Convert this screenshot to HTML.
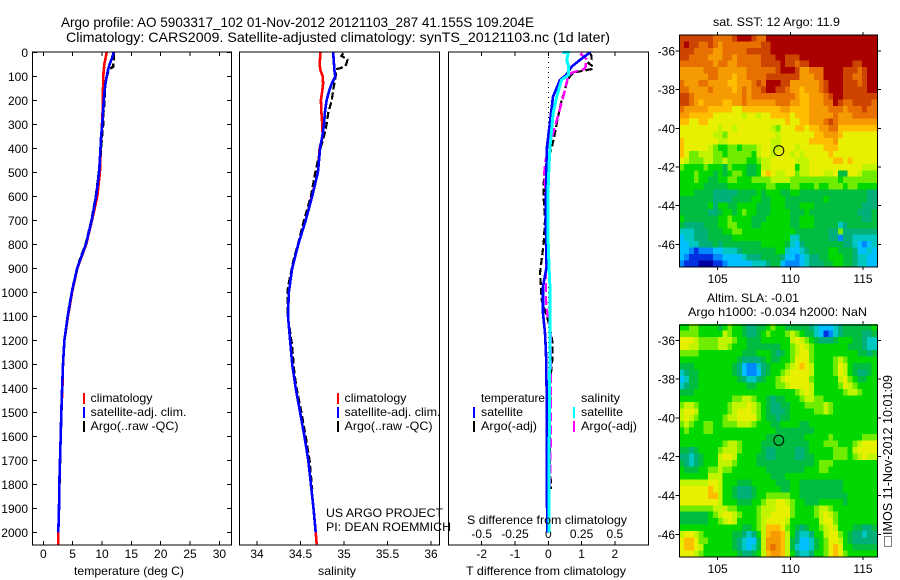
<!DOCTYPE html>
<html lang="en">
<head>
<meta charset="utf-8">
<title>Argo profile 5903317_102</title>
<style>
html,body{margin:0;padding:0;background:#fff;}
svg{display:block;}
text{font-family:"Liberation Sans",sans-serif;font-size:12px;fill:#000;}
.title{font-size:14px;}
.frame{fill:none;stroke:#000;stroke-width:1.4;shape-rendering:crispEdges;}
.bar{shape-rendering:crispEdges;}
</style>
</head>
<body>
<svg id="chart" xmlns="http://www.w3.org/2000/svg" width="900" height="580" viewBox="0 0 900 580">
  <rect x="0" y="0" width="900" height="580" fill="#fff"/>
  <text class="title" x="61" y="27" textLength="473" lengthAdjust="spacingAndGlyphs">Argo profile: AO 5903317_102 01-Nov-2012 20121103_287 41.155S 109.204E</text>
  <text class="title" x="66" y="42" textLength="544" lengthAdjust="spacingAndGlyphs">Climatology: CARS2009. Satellite-adjusted climatology: synTS_20121103.nc (1d later)</text>

  <g id="panel-t"></g>
  <g id="panel-s"></g>
  <g id="panel-d"></g>
  <g id="map-sst"></g>
  <g id="map-sla"></g>

  <rect class="frame" x="32.5" y="52" width="199" height="493"/>
  <rect class="frame" x="239.5" y="52" width="200" height="493"/>
  <rect class="frame" x="448.5" y="52" width="200" height="493"/>
  <rect class="frame" x="679.5" y="35" width="198" height="232"/>
  <rect class="frame" x="679.5" y="325" width="198" height="232"/>

  <text x="74" y="575" textLength="110" lengthAdjust="spacingAndGlyphs">temperature (deg C)</text>
  <text x="318" y="575" textLength="38" lengthAdjust="spacingAndGlyphs">salinity</text>
  <text x="466" y="575" textLength="160" lengthAdjust="spacingAndGlyphs">T difference from climatology</text>
  <text x="467" y="524" textLength="160" lengthAdjust="spacingAndGlyphs">S difference from climatology</text>

  <g>
    <rect class="bar" x="83" y="393" width="2" height="11" fill="#f00"/>
    <rect class="bar" x="83" y="407" width="2" height="11" fill="#00f"/>
    <rect class="bar" x="83" y="421" width="2" height="11" fill="#000"/>
    <text x="90.5" y="402" textLength="62" lengthAdjust="spacingAndGlyphs">climatology</text>
    <text x="90.5" y="416" textLength="96" lengthAdjust="spacingAndGlyphs">satellite-adj. clim.</text>
    <text x="90.5" y="430" textLength="88" lengthAdjust="spacingAndGlyphs">Argo(..raw -QC)</text>
  </g>
  <g>
    <rect class="bar" x="337" y="393" width="2" height="11" fill="#f00"/>
    <rect class="bar" x="337" y="407" width="2" height="11" fill="#00f"/>
    <rect class="bar" x="337" y="421" width="2" height="11" fill="#000"/>
    <text x="344.5" y="402" textLength="62" lengthAdjust="spacingAndGlyphs">climatology</text>
    <text x="344.5" y="416" textLength="96" lengthAdjust="spacingAndGlyphs">satellite-adj. clim.</text>
    <text x="344.5" y="430" textLength="88" lengthAdjust="spacingAndGlyphs">Argo(..raw -QC)</text>
  </g>
  <g>
    <text x="481" y="402" textLength="64" lengthAdjust="spacingAndGlyphs">temperature</text>
    <text x="581" y="402" textLength="39" lengthAdjust="spacingAndGlyphs">salinity</text>
    <rect class="bar" x="473" y="407" width="2" height="11" fill="#00f"/>
    <rect class="bar" x="473" y="421" width="2" height="11" fill="#000"/>
    <rect class="bar" x="573" y="407" width="2" height="11" fill="#0ff"/>
    <rect class="bar" x="573" y="421" width="2" height="11" fill="#f0f"/>
    <text x="481" y="416" textLength="42" lengthAdjust="spacingAndGlyphs">satellite</text>
    <text x="481" y="430" textLength="56" lengthAdjust="spacingAndGlyphs">Argo(-adj)</text>
    <text x="581" y="416" textLength="42" lengthAdjust="spacingAndGlyphs">satellite</text>
    <text x="581" y="430" textLength="56" lengthAdjust="spacingAndGlyphs">Argo(-adj)</text>
  </g>

  <text x="326" y="517" textLength="117" lengthAdjust="spacingAndGlyphs">US ARGO PROJECT</text>
  <text x="326" y="531" textLength="125" lengthAdjust="spacingAndGlyphs">PI: DEAN ROEMMICH</text>

  <text x="713" y="26" textLength="127" lengthAdjust="spacingAndGlyphs">sat. SST: 12 Argo: 11.9</text>
  <text x="707" y="302" textLength="92" lengthAdjust="spacingAndGlyphs">Altim. SLA: -0.01</text>
  <text x="688" y="316" textLength="179" lengthAdjust="spacingAndGlyphs">Argo h1000: -0.034 h2000: NaN</text>

  <rect x="884.5" y="536.5" width="7" height="10" fill="none" stroke="#000" stroke-width="1" stroke-dasharray="1 1"/>
  <text style="font-size:13px" transform="translate(892 535) rotate(-90)" textLength="160" lengthAdjust="spacingAndGlyphs">IMOS 11-Nov-2012 10:01:09</text>
</svg>
<script>
// ---------- profile data ----------
const depths = [0,25,50,75,100,130,160,200,250,300,350,400,500,600,700,800,900,1000,1100,1200,1300,1400,1500,1600,1700,1800,1900,2000,2050];
const climTemp = [10.8,10.6,10.4,10.3,10.2,10.2,10.15,10.15,10.1,10.0,9.9,9.8,9.65,9.2,8.3,7.3,5.8,4.9,4.2,3.6,3.35,3.25,3.07,2.96,2.85,2.73,2.67,2.55,2.52];
const satTemp = [12.0,11.7,11.3,11.0,10.8,10.6,10.45,10.3,10.15,10.05,9.85,9.75,9.5,9.0,8.25,7.25,5.75,4.85,4.15,3.6,3.35,3.2,3.07,2.96,2.85,2.73,2.67,2.55];
const climSal = [34.73,34.725,34.72,34.73,34.755,34.76,34.75,34.735,34.74,34.75,34.755,34.72,34.70,34.63,34.56,34.475,34.405,34.365,34.356,34.38,34.405,34.445,34.495,34.545,34.59,34.62,34.65,34.675,34.686];
const satSal = [34.875,34.88,34.885,34.89,34.90,34.86,34.83,34.80,34.78,34.77,34.75,34.725,34.70,34.635,34.56,34.475,34.405,34.365,34.356,34.38,34.405,34.445,34.495,34.545,34.59,34.62,34.65,34.675];
const argoDepths = [4,15,30,45,60,70,85,100,130,160,200,250,300,350,400,450,500,600,700,800,865,920,977,1032,1095,1150,1212,1270,1336,1400,1500,1600,1700,1820];
const argoTemp = [12.0,12.0,12.0,11.9,11.9,11.3,11.0,10.85,10.6,10.5,10.45,10.25,10.2,10.0,9.85,9.7,9.45,8.95,8.2,7.2,6.2,5.6,5.0,4.6,4.15,3.85,3.55,3.4,3.3,3.22,3.1,2.98,2.88,2.74];
const argoSal = [34.99,34.97,35.04,35.03,35.01,34.92,34.905,34.905,34.89,34.875,34.86,34.82,34.80,34.77,34.73,34.70,34.67,34.62,34.54,34.47,34.42,34.39,34.355,34.35,34.35,34.375,34.40,34.415,34.43,34.455,34.51,34.56,34.605,34.635];
const argoTempDiff = [1.25,1.3,1.3,1.2,1.35,1.3,0.75,0.65,0.55,0.5,0.4,0.32,0.25,0.18,0.1,-0.03,-0.13,-0.14,-0.1,-0.14,-0.2,-0.25,-0.22,-0.2,-0.05,0.05,0.13,0.13,0.08,0.06,0.05,0.05,0.05,0.08];
const argoSalDiff = [0.24,0.26,0.29,0.28,0.28,0.27,0.175,0.15,0.135,0.125,0.105,0.08,0.055,0.03,0.0,-0.02,-0.03,-0.02,-0.017,-0.017,-0.017,-0.017,-0.017,-0.017,-0.007,0.015,0.02,0.02,0.02,0.02,0.02,0.02,0.015,0.012];
const satDiffDepths = [0,1,32,60,95,115,185,254,324,393,462,601,740,893,977,1087,1170,1253,1400,1700,2000];
const satTempDiff = [1.25,1.25,0.95,0.7,0.53,0.35,0.14,0.08,0.02,-0.04,-0.05,-0.07,-0.07,-0.05,-0.16,-0.16,-0.1,-0.07,-0.05,-0.05,-0.03];
const satSalDiff = [0.105,0.15,0.138,0.153,0.15,0.10,0.063,0.036,0.025,0.013,0.006,-0.004,-0.004,0.005,0.012,0.012,0.012,0.012,0.01,0.006,0.005];

// ---------- tick labels ----------
const depthTicks = [0,100,200,300,400,500,600,700,800,900,1000,1100,1200,1300,1400,1500,1600,1700,1800,1900,2000];
const tempTicks = [0,5,10,15,20,25,30];
const salTicks = [34,34.5,35,35.5,36];
const tDiffTicks = [-2,-1,0,1,2];
const sDiffTicks = [-0.5,-0.25,0,0.25,0.5];
const lonTicks = [105,110,115];
const latTicks = [-36,-38,-40,-42,-44,-46];
const argoLon = [109.204];
const argoLat = [-41.155];

// ---------- map data: colour level per cell, north to south ----------
const sstLevels = [
[14,14,14,14,14,14,14,13,13,13,13,14,15,15,15,14,13,13,15,15,15,15,15,15,15,15,15,15,15,15,15,15,15,15,15,15,15,15,15,15,15],
[14,15,14,14,13,13,14,13,12,13,13,13,13,13,13,13,13,14,14,15,15,15,15,15,15,15,15,15,15,15,15,15,15,15,15,15,15,15,15,15,15],
[14,14,14,13,13,13,13,12,12,13,13,13,13,13,14,14,14,14,14,15,15,15,15,15,15,15,15,15,15,15,15,15,15,15,15,15,15,15,15,15,15],
[14,14,13,13,13,13,12,12,12,13,13,12,13,13,13,13,13,14,14,14,15,15,14,14,14,15,15,15,15,15,15,15,15,15,15,15,15,15,15,15,15],
[13,13,13,13,13,13,13,12,13,13,12,12,13,13,13,13,13,14,14,14,14,15,14,14,13,14,14,15,15,15,15,15,15,15,15,15,14,14,15,15,15],
[12,12,12,12,12,13,13,13,12,12,12,12,12,12,13,13,13,13,13,13,14,15,15,15,14,12,12,13,13,13,15,15,15,15,14,14,14,13,14,15,15],
[12,12,12,12,12,12,13,13,12,12,12,11,12,12,13,13,13,13,14,14,14,14,14,14,14,12,12,12,13,13,15,15,15,15,14,14,13,13,14,15,15],
[13,12,12,12,13,13,12,12,12,12,11,11,12,12,12,13,14,13,15,15,15,14,14,12,12,12,12,12,12,13,14,15,15,15,14,14,14,13,14,15,15],
[13,13,12,12,12,12,13,12,12,12,12,11,12,13,12,13,13,14,15,15,14,14,13,12,12,11,12,12,12,13,14,15,15,15,14,14,14,14,14,15,15],
[14,14,13,12,12,12,12,12,12,12,12,12,12,13,12,13,13,13,13,13,13,13,13,13,12,11,11,12,12,12,13,14,15,15,14,14,14,14,14,14,14],
[14,14,13,12,11,12,12,12,12,11,11,12,12,13,12,12,12,12,12,12,13,13,13,12,12,11,11,12,12,12,13,13,15,14,13,13,14,14,14,14,13],
[13,12,12,12,12,12,11,11,11,11,11,10,10,11,11,11,11,11,11,11,11,12,12,11,11,11,11,12,12,12,12,13,13,13,12,13,13,13,14,13,13],
[12,12,11,11,11,11,11,10,10,10,10,10,10,9,10,10,9,10,10,11,11,11,11,10,11,11,11,12,12,12,12,12,13,12,12,12,13,13,13,13,13],
[11,11,10,10,11,11,10,10,10,10,10,10,10,10,10,10,10,10,10,10,10,10,11,10,10,11,11,12,12,12,13,14,13,12,12,12,12,12,12,12,12],
[10,10,10,10,10,10,10,10,9,10,10,9,10,10,10,10,10,10,10,9,8,10,10,10,11,11,10,11,11,12,12,13,13,11,11,11,11,11,11,11,11],
[10,10,10,10,10,10,10,9,9,8,10,10,10,10,10,10,10,10,10,10,9,10,10,10,10,10,10,10,11,11,12,12,12,11,10,10,10,10,10,10,10],
[11,10,10,10,10,10,10,10,9,9,10,10,10,10,10,10,10,10,10,9,9,10,10,10,10,10,10,11,11,11,11,11,12,10,10,10,10,10,10,10,10],
[11,10,10,10,10,10,9,8,7,7,8,8,7,8,8,8,9,10,10,9,9,10,10,10,9,10,10,10,10,10,11,11,11,10,10,10,10,10,10,10,10],
[11,10,8,8,9,9,9,8,8,7,8,8,8,8,8,7,9,10,10,9,10,10,10,9,10,9,10,10,10,10,10,11,10,10,10,10,10,10,10,10,10],
[10,9,8,8,8,9,9,8,8,9,8,8,8,8,7,7,8,9,9,10,10,10,10,10,9,9,9,10,10,10,10,10,11,11,10,11,10,10,10,10,10],
[8,7,7,7,7,8,7,7,7,6,8,7,7,7,6,6,7,9,9,10,10,10,10,10,7,9,9,10,10,10,10,10,10,10,10,10,10,10,9,9,9],
[7,7,7,8,7,7,7,6,7,6,7,8,8,7,6,6,7,10,11,10,9,9,10,10,8,9,9,10,10,10,9,9,10,6,6,10,10,9,8,8,8],
[7,7,7,8,7,7,6,6,7,7,8,8,7,7,7,8,8,8,8,9,9,9,9,8,8,8,8,8,8,8,8,8,8,7,8,8,8,8,8,8,8],
[7,7,7,7,7,6,6,6,6,6,7,7,7,7,7,7,7,7,8,8,7,7,7,8,8,7,7,7,8,7,7,8,8,8,7,8,8,7,7,7,7],
[7,7,7,6,6,6,6,5,5,5,5,5,6,6,6,6,7,6,7,7,7,6,6,7,7,6,6,6,6,6,6,6,6,6,6,6,6,6,6,5,5],
[6,6,6,6,6,6,6,5,5,5,5,6,6,6,6,7,7,6,6,7,7,7,6,6,6,6,6,6,6,6,7,6,6,6,6,6,6,6,6,5,5],
[6,6,6,6,6,6,7,5,7,7,6,6,7,7,7,7,6,6,6,7,7,7,6,6,6,7,7,7,6,6,6,6,6,6,6,6,6,6,5,5,5],
[6,6,6,6,6,6,5,5,6,7,7,6,7,8,7,7,6,6,6,7,7,7,7,6,6,6,7,6,6,6,6,6,6,6,6,6,6,5,5,5,6],
[7,6,6,6,6,6,6,6,7,7,8,7,7,7,7,6,6,6,7,7,7,7,7,6,6,7,7,7,6,6,6,6,6,6,6,6,6,6,5,5,6],
[6,5,5,5,5,6,6,6,7,7,8,8,7,7,7,6,6,7,7,7,7,7,7,6,6,7,7,7,6,6,6,6,6,4,5,6,6,6,6,6,6],
[4,4,4,5,5,5,6,6,6,7,7,8,8,7,7,7,7,7,7,7,7,7,7,7,6,6,6,6,6,6,6,5,5,8,5,5,5,5,5,5,5],
[3,4,4,5,5,5,6,6,6,6,6,7,7,7,7,7,7,7,7,7,7,7,7,4,4,6,6,6,6,6,6,5,5,2,5,5,4,4,4,4,4],
[3,3,4,4,5,5,5,6,5,6,6,6,6,6,6,6,6,7,7,7,7,7,6,4,3,5,6,6,6,6,6,6,6,6,5,5,4,3,2,3,4],
[3,3,2,1,2,2,2,3,3,4,4,4,5,6,6,6,6,6,6,6,7,7,4,3,3,4,5,6,6,6,6,7,7,6,6,6,5,3,3,4,3],
[3,2,1,1,1,1,1,2,2,3,3,3,3,4,5,5,5,6,6,6,6,5,3,3,2,3,4,5,5,6,6,7,7,7,6,6,5,4,4,3,3],
[2,1,1,1,0,0,0,1,1,2,3,3,3,3,3,4,4,4,5,6,6,3,2,2,2,3,4,5,5,5,6,6,7,7,6,6,5,4,4,3,3]
];
const slaLevels = [
[7,7,8,8,7,7,7,7,6,7,8,7,7,6,5,5,6,6,7,8,7,7,6,6,6,6,6,5,4,3,3,3,4,5,6,6,6,6,6,6,7],
[8,8,8,8,7,7,7,7,7,9,8,7,7,6,5,5,6,7,8,7,7,7,8,9,8,7,6,6,4,3,1,2,4,5,6,6,6,6,5,5,6],
[10,10,10,9,8,8,8,8,9,9,9,8,7,7,6,6,6,7,7,7,7,7,7,9,10,9,8,7,6,5,5,5,6,7,7,7,6,6,5,4,4],
[10,10,9,9,8,8,8,8,9,9,8,7,7,7,6,6,6,6,6,6,6,7,7,8,9,10,9,8,7,7,7,7,7,7,7,6,6,6,5,4,4],
[8,8,8,8,7,7,7,7,7,7,7,7,7,6,6,6,7,7,7,6,5,6,7,8,9,10,10,8,7,7,7,7,7,7,7,7,7,6,6,5,6],
[7,7,7,7,7,7,7,7,7,7,7,7,6,5,5,5,5,6,7,6,6,7,7,8,10,10,10,8,7,7,7,7,8,9,8,7,7,7,7,7,7],
[6,6,6,7,7,7,7,7,7,7,7,6,5,3,2,2,4,5,6,7,7,7,8,9,10,11,10,9,7,7,7,7,8,10,9,7,6,6,6,6,7],
[4,5,6,6,7,7,7,7,7,7,7,6,5,3,2,2,3,5,6,7,7,8,9,10,10,10,10,9,7,7,7,7,8,10,9,7,6,5,5,6,7],
[3,4,6,6,7,7,7,7,7,7,7,7,6,5,4,4,5,6,7,7,8,9,10,10,10,10,10,8,7,7,7,7,7,9,10,8,7,6,6,7,7],
[4,5,6,6,7,7,7,7,7,7,7,7,7,7,6,6,7,7,7,7,8,8,9,10,10,10,10,9,7,7,7,7,7,8,10,9,8,7,7,7,7],
[6,6,6,7,7,7,7,7,7,7,7,7,7,7,7,7,7,7,7,7,7,7,7,7,8,9,10,9,7,7,7,7,7,7,8,9,9,8,7,7,7],
[7,7,7,7,7,7,7,7,7,7,7,8,8,9,9,8,7,7,6,5,6,6,7,7,7,8,9,9,8,8,7,7,7,7,7,7,7,7,7,7,7],
[8,9,9,8,7,7,7,7,7,7,8,9,9,9,10,9,8,7,6,5,5,6,6,7,7,7,8,8,8,8,9,8,7,7,7,7,7,7,7,7,7],
[9,10,10,9,7,7,7,7,7,7,8,9,10,10,10,9,8,7,6,5,5,5,6,7,7,7,7,7,8,8,9,8,7,7,7,7,7,7,7,7,7],
[9,10,9,8,7,7,7,7,7,8,9,9,10,10,10,10,8,7,6,6,5,6,6,7,7,7,7,7,7,7,7,7,7,7,7,7,7,7,7,7,7],
[8,9,8,7,7,8,8,7,7,8,8,8,9,9,9,8,7,7,7,6,6,7,7,7,7,6,6,7,7,7,7,7,7,7,7,7,7,7,7,7,7],
[7,8,7,7,7,8,8,7,7,7,7,7,7,7,7,7,7,7,7,7,6,6,6,6,6,6,6,6,7,7,7,7,7,7,7,7,7,7,7,7,7],
[7,7,7,7,7,7,7,7,7,7,7,7,7,7,7,7,7,7,6,6,6,6,6,6,6,6,7,7,7,7,7,8,7,7,7,7,7,7,8,8,8],
[7,7,7,7,7,7,7,7,7,8,9,9,8,7,7,7,7,6,6,6,6,6,6,6,6,6,6,7,7,7,8,8,8,7,7,7,8,9,10,10,10],
[6,6,5,6,7,7,7,7,8,9,9,9,8,7,7,7,7,6,5,5,6,6,6,6,5,5,6,7,7,7,7,7,8,8,8,7,9,10,10,10,10],
[5,5,4,5,6,7,7,7,9,10,10,9,7,7,7,7,6,6,5,5,6,6,6,6,5,5,6,6,7,7,7,7,8,8,8,7,8,9,10,9,9],
[6,5,4,5,6,7,7,7,9,9,9,8,7,7,7,7,6,6,6,6,6,6,6,6,6,6,6,6,7,8,8,8,7,7,7,7,7,7,7,7,7],
[7,6,6,6,7,7,8,8,9,8,8,7,7,7,7,7,7,7,6,6,6,6,6,6,6,6,7,7,7,8,8,7,7,7,7,7,7,7,7,7,7],
[7,7,7,7,7,7,9,9,9,7,7,7,7,7,7,7,7,7,7,6,6,6,7,7,7,7,7,7,7,7,7,7,7,7,7,7,7,7,7,7,7],
[9,9,9,9,9,9,10,10,9,7,7,7,6,6,6,7,7,7,7,7,6,6,6,7,7,6,6,6,6,6,6,6,6,6,7,7,7,7,7,7,7],
[10,10,10,10,10,10,11,10,9,7,7,6,5,5,5,6,7,7,7,7,7,6,6,7,7,6,6,6,6,6,6,6,6,6,7,7,7,7,7,7,7],
[10,10,10,10,10,10,11,11,9,7,7,6,5,5,5,6,7,7,8,8,8,8,8,7,7,6,6,6,6,6,6,6,6,6,6,7,7,7,7,7,7],
[10,10,10,10,10,10,10,10,9,7,7,7,6,6,6,7,7,8,9,9,10,10,9,8,7,7,6,6,6,7,7,7,7,7,6,7,7,7,7,7,7],
[8,8,8,8,8,8,8,9,9,9,8,8,7,7,7,7,8,9,9,9,10,10,10,8,7,7,7,7,8,9,9,8,7,7,7,7,7,7,7,7,7],
[6,6,6,6,6,6,7,8,9,10,10,9,8,7,7,7,8,9,9,10,10,10,10,8,7,7,7,7,8,9,10,9,8,7,7,7,7,7,7,7,7],
[6,6,6,6,6,6,7,7,8,9,10,9,7,7,7,7,8,9,10,10,10,10,9,7,7,7,7,7,7,9,10,10,8,7,7,7,7,7,7,7,7],
[7,7,7,7,7,7,7,7,7,7,7,7,7,6,6,7,8,9,11,11,11,10,8,7,6,5,6,7,7,8,9,10,9,7,7,7,6,6,5,5,6],
[9,10,10,9,8,7,7,7,7,7,7,6,6,5,4,5,7,9,11,12,12,11,9,7,5,4,4,5,7,7,9,10,10,8,7,6,5,5,4,5,5],
[10,11,11,10,8,8,7,7,7,7,7,6,5,4,3,3,6,9,12,12,12,11,9,6,5,3,3,4,6,7,8,10,10,9,7,6,5,5,5,5,5],
[10,11,11,10,9,7,7,7,7,7,7,6,5,4,3,4,6,9,12,13,12,11,9,6,4,3,3,4,6,7,8,10,11,10,7,7,6,6,6,6,6],
[10,10,10,9,8,7,7,7,7,7,7,7,6,5,5,6,7,9,11,12,12,11,9,7,5,4,4,5,7,7,8,10,11,10,8,7,7,7,7,7,7]
];

// ---------- scales ----------
const SVGNS = 'http://www.w3.org/2000/svg';
const levelColors = ['#0000a0','#0030e0','#0088ff','#00c0ff','#00c8c0','#00b078','#00bc40','#00d800','#70ec00','#c0f400','#e6f000','#ffbe00','#f59a00','#e87000','#cc4400','#aa0000'];
const yDepth = d => 52.3 + 0.24 * d;
const xTemp = t => 43.3 + 5.87 * t;
const xSal = s => 257 + 87 * (s - 34);
const xTDiff = t => 548.3 + 33.3 * t;
const xSDiff = s => 548.3 + 133.2 * s;
const xLon = lon => 717.7 + 14.53 * (lon - 105);
const ySstLat = lat => 51 + 19.33 * (-36 - lat);
const ySlaLat = lat => 340.3 + 19.4 * (-36 - lat);
const lonWest = 102.36;
const lonEast = 115.93;
const latNorth = -35.17;
const latSouth = -47.17;

function mk(tag, attrs, parent) {
  const el = document.createElementNS(SVGNS, tag);
  for (const k in attrs) el.setAttribute(k, attrs[k]);
  parent.appendChild(el);
  return el;
}
function tickLine(parent, x1, y1, x2, y2) {
  const el = mk('line', {x1, y1, x2, y2, stroke: '#000', 'stroke-width': 1, 'shape-rendering': 'crispEdges'}, parent);
  
  
}
function tickText(parent, x, y, anchor, str) {
  const el = mk('text', {x, y, 'text-anchor': anchor}, parent);
  el.textContent = str;
  
  
}
function profile(parent, xFn, ds, vs, color, dash, width, name) {
  const pts = vs.map((v, i) => xFn(v).toFixed(1) + ',' + yDepth(ds[i]).toFixed(1)).join(' ');
  const el = mk('polyline', {points: pts, fill: 'none', stroke: color, 'stroke-width': width, 'stroke-dasharray': dash, 'shape-rendering': 'crispEdges'}, parent);
  
  
}

// ---------- temperature panel ----------
const pT = document.getElementById('panel-t');
depthTicks.forEach(d => {
  tickLine(pT, 32.5, yDepth(d), 37, yDepth(d));
  tickLine(pT, 227, yDepth(d), 231.5, yDepth(d));
  tickText(pT, 28, yDepth(d) + 4.5, 'end', String(d));
});
tempTicks.forEach(t => {
  tickLine(pT, xTemp(t), 52, xTemp(t), 56);
  tickLine(pT, xTemp(t), 541, xTemp(t), 545);
  tickText(pT, xTemp(t), 558, 'middle', String(t));
});
profile(pT, xTemp, depths, climTemp, '#f00', 'none', 2.6, 'climatology-temperature-line');
profile(pT, xTemp, argoDepths, argoTemp, '#000', '7 3', 2.4, 'argo-temperature-line');
profile(pT, xTemp, depths, satTemp, '#00f', 'none', 2.6, 'satellite-temperature-line');

// ---------- salinity panel ----------
const pS = document.getElementById('panel-s');
salTicks.forEach(s => {
  tickLine(pS, xSal(s), 541, xSal(s), 545);
  tickText(pS, xSal(s), 558, 'middle', String(s));
});
profile(pS, xSal, depths, climSal, '#f00', 'none', 2.6, 'climatology-salinity-line');
profile(pS, xSal, argoDepths, argoSal, '#000', '7 3', 2.2, 'argo-salinity-line');
profile(pS, xSal, depths, satSal, '#00f', 'none', 2.6, 'satellite-salinity-line');

// ---------- difference panel ----------
const pD = document.getElementById('panel-d');
tDiffTicks.forEach(t => {
  tickLine(pD, xTDiff(t), 52, xTDiff(t), 56);
  tickLine(pD, xTDiff(t), 541, xTDiff(t), 545);
  tickText(pD, xTDiff(t), 558, 'middle', String(t));
});
sDiffTicks.forEach(s => {
  tickText(pD, xSDiff(s), 538, 'middle', String(s));
});
const zeroLine = mk('line', {x1: xTDiff(0), y1: 52, x2: xTDiff(0), y2: 545, stroke: '#000', 'stroke-width': 1, 'stroke-dasharray': '1 4', 'shape-rendering': 'crispEdges'}, pD);


profile(pD, xTDiff, argoDepths, argoTempDiff, '#000', '7 3', 2.2, 'argo-temperature-difference-line');
profile(pD, xSDiff, argoDepths, argoSalDiff, '#f0f', '9 4', 2.4, 'argo-salinity-difference-line');
profile(pD, xTDiff, satDiffDepths, satTempDiff, '#00f', 'none', 2.6, 'satellite-temperature-difference-line');
profile(pD, xSDiff, satDiffDepths, satSalDiff, '#0ff', 'none', 3, 'satellite-salinity-difference-line');

// ---------- maps ----------
function drawMap(group, levels, yLat, labelY, cellName) {
  const nRows = levels.length;
  levels.forEach((row, r) => {
    const yA = yLat(latNorth + (latSouth - latNorth) * r / nRows);
    const yB = yLat(latNorth + (latSouth - latNorth) * (r + 1) / nRows);
    row.forEach((lv, c) => {
      const xA = xLon(lonWest + (lonEast - lonWest) * c / row.length);
      const xB = xLon(lonWest + (lonEast - lonWest) * (c + 1) / row.length);
      const cell = mk('rect', {x: xA, y: yA, width: xB - xA + 0.3, height: yB - yA + 0.3, fill: levelColors[lv], 'shape-rendering': 'crispEdges'}, group);
      
      
    });
  });
  const top = yLat(latNorth);
  const bottom = yLat(latSouth);
  lonTicks.forEach(lon => {
    tickLine(group, xLon(lon), top - 3, xLon(lon), top);
    tickLine(group, xLon(lon), bottom, xLon(lon), bottom + 3);
    tickText(group, xLon(lon), labelY, 'middle', String(lon));
  });
  latTicks.forEach(lat => {
    tickLine(group, 675.5, yLat(lat), 679.5, yLat(lat));
    tickLine(group, 877.5, yLat(lat), 881, yLat(lat));
    tickText(group, 675, yLat(lat) + 4.5, 'end', String(lat));
  });
  const marker = mk('circle', {cx: xLon(argoLon[0]), cy: yLat(argoLat[0]), r: 5, fill: 'none', stroke: '#000', 'stroke-width': 1}, group);
  
  
}
drawMap(document.getElementById('map-sst'), sstLevels, ySstLat, 283, 'sst-cell');
drawMap(document.getElementById('map-sla'), slaLevels, ySlaLat, 573, 'sla-cell');
</script>
</body>
</html>
